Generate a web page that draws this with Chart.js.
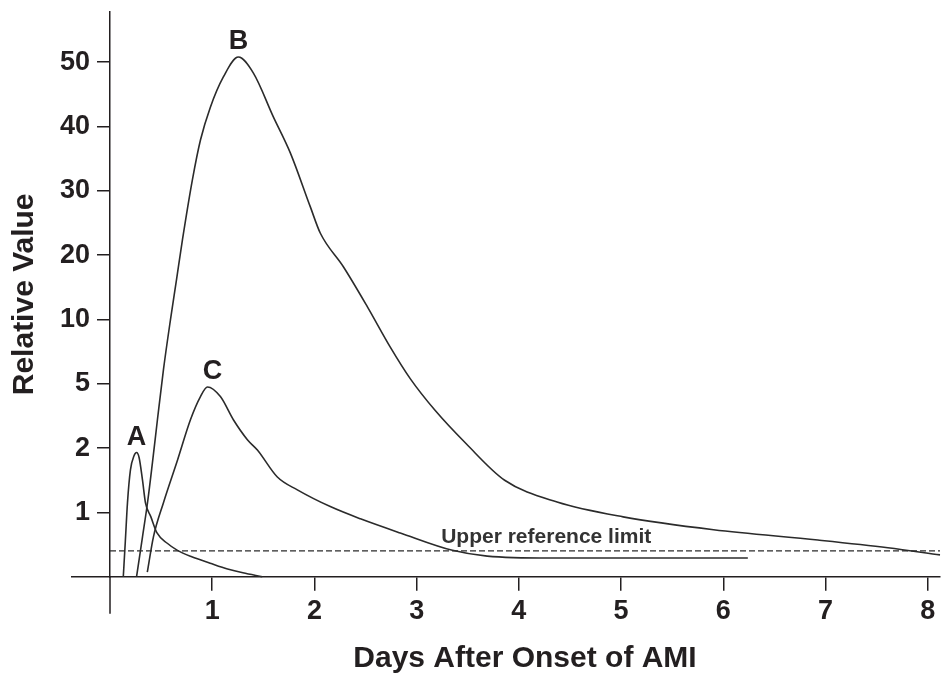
<!DOCTYPE html>
<html>
<head>
<meta charset="utf-8">
<title>Relative Value after onset of AMI</title>
<script src="https://cdn.jsdelivr.net/npm/chart.js@4.4.1/dist/chart.umd.min.js"></script>
<style>
    html, body { margin: 0; padding: 0; background: #ffffff; }
    .chart-container { position: relative; width: 945px; height: 674px; }
</style>
</head>
<body>
<div class="chart-container"><canvas id="ami-chart"></canvas></div>
<script>
// Tick values of the y axis. The axis is not linear: every step between
// two ticks gets the same height, so values are mapped onto tick steps.
const yTickValues = [0, 1, 2, 5, 10, 20, 30, 40, 50];
const xTickValues = [1, 2, 3, 4, 5, 6, 7, 8];

// Curve A
const daysA = [0.13, 0.15, 0.171, 0.2, 0.235, 0.26, 0.285, 0.318, 0.347, 0.40, 0.46, 0.56, 0.66, 0.80, 0.98, 1.15, 1.30, 1.49];
const valuesA = [0, 0.55, 1.15, 1.66, 1.88, 1.93, 1.85, 1.50, 1.15, 0.93, 0.68, 0.52, 0.41, 0.31, 0.21, 0.12, 0.06, 0];

// Curve B
const daysB = [0.26, 0.318, 0.367, 0.415, 0.464, 0.523, 0.591, 0.65, 0.709, 0.806, 0.885, 0.982, 1.109, 1.256, 1.403, 1.598, 1.764, 1.96, 2.058, 2.283, 2.517, 2.742, 2.937, 3.182, 3.485, 3.861, 4.374, 5.02, 5.905, 6.925, 7.61, 8.12];
const valuesB = [0, 0.62, 1.15, 1.77, 3.32, 6.1, 9.95, 16.1, 22.4, 31.7, 37.9, 43.0, 47.7, 50.8, 48.3, 41.5, 35.9, 27.5, 23.4, 18.2, 12.0, 7.85, 5.4, 3.75, 2.2, 1.50, 1.16, 0.93, 0.73, 0.57, 0.45, 0.34];

// Curve C
const daysC = [0.365, 0.425, 0.523, 0.66, 0.787, 0.885, 0.953, 1.08, 1.207, 1.344, 1.442, 1.637, 1.833, 2.155, 2.45, 2.84, 3.35, 3.69, 4.3, 4.88, 6.24];
const valuesC = [0.07, 0.62, 1.15, 1.81, 3.32, 4.4, 4.85, 4.4, 3.32, 2.39, 1.97, 1.55, 1.35, 1.09, 0.90, 0.68, 0.41, 0.32, 0.29, 0.29, 0.29];

const curveNames = ['A', 'B', 'C'];
const upperReferenceLimit = 0.4;
const referenceLabel = 'Upper reference limit';

const INK = '#231f20';
const FONT = "'Liberation Sans', Arial, Helvetica, sans-serif";

// value -> position in tick steps
function toAxis(v) {
    for (let i = 1; i < yTickValues.length; i++) {
        if (v <= yTickValues[i]) {
            const lo = yTickValues[i - 1];
            const hi = yTickValues[i];
            return (i - 1) + (v - lo) / (hi - lo);
        }
    }
    const n = yTickValues.length - 1;
    return n + (v - yTickValues[n]) / (yTickValues[n] - yTickValues[n - 1]);
}

function toPoints(days, values) {
    return days.map((d, i) => ({ x: d, y: toAxis(values[i]) }));
}

function curve(name, days, values, labelDx) {
    return {
        label: name,
        data: toPoints(days, values),
        borderColor: '#2b2b2b',
        borderWidth: 1.6,
        pointRadius: 0,
        cubicInterpolationMode: 'monotone',
        fill: false,
        clip: false,
        peakLabel: name,
        peakLabelDx: labelDx
    };
}

const extraMarks = {
    id: 'extraMarks',
    afterDraw(chart) {
        const { ctx, chartArea } = chart;
        const x = chart.scales.x;
        const y = chart.scales.y;
        const y0 = y.getPixelForValue(0);

        ctx.save();
        // axis lines run a little past the origin
        ctx.strokeStyle = INK;
        ctx.lineWidth = 1.5;
        ctx.beginPath();
        ctx.moveTo(chartArea.left - 39, y0);
        ctx.lineTo(chartArea.left, y0);
        ctx.moveTo(chartArea.left, chartArea.bottom);
        ctx.lineTo(chartArea.left, chartArea.bottom + 37);
        ctx.stroke();

        // letters over the peaks
        ctx.fillStyle = INK;
        ctx.font = 'bold 27px ' + FONT;
        ctx.textAlign = 'center';
        ctx.textBaseline = 'alphabetic';
        chart.data.datasets.forEach(ds => {
            if (!ds.peakLabel) return;
            const peak = ds.data.reduce((a, b) => (b.y > a.y ? b : a));
            ctx.fillText(ds.peakLabel,
                x.getPixelForValue(peak.x) + (ds.peakLabelDx || 0),
                y.getPixelForValue(peak.y) - 8);
        });

        // reference line label
        ctx.fillStyle = '#333333';
        ctx.font = 'bold 21px ' + FONT;
        ctx.textAlign = 'left';
        ctx.fillText(referenceLabel, x.getPixelForValue(3.24), y.getPixelForValue(toAxis(upperReferenceLimit)) - 8);
        ctx.restore();
    }
};

const ctx = document.getElementById('ami-chart').getContext('2d');
new Chart(ctx, {
    type: 'line',
    data: {
        datasets: [
            curve(curveNames[0], daysA, valuesA, 0),
            curve(curveNames[1], daysB, valuesB, 0),
            curve(curveNames[2], daysC, valuesC, 5),
            {
                label: referenceLabel,
                data: [{ x: 0, y: toAxis(upperReferenceLimit) }, { x: 8.12, y: toAxis(upperReferenceLimit) }],
                borderColor: '#2b2b2b',
                borderWidth: 1.3,
                borderDash: [6, 3],
                pointRadius: 0,
                fill: false
            }
        ]
    },
    options: {
        responsive: true,
        maintainAspectRatio: false,
        animation: false,
        layout: { padding: { top: 12, right: 5, bottom: 0, left: 0 } },
        plugins: {
            legend: { display: false },
            tooltip: { enabled: false }
        },
        scales: {
            x: {
                type: 'linear',
                min: 0,
                max: 8.12,
                afterBuildTicks: scale => {
                    scale.ticks = xTickValues.map(v => ({ value: v }));
                },
                afterFit: scale => {
                    scale.height = 97.3;
                    scale.paddingLeft = 0;
                    scale.paddingRight = 0;
                },
                border: { display: true, color: INK, width: 1.5 },
                grid: {
                    drawOnChartArea: false,
                    drawTicks: true,
                    tickLength: 14,
                    color: INK,
                    lineWidth: 1.5
                },
                ticks: {
                    autoSkip: false,
                    maxRotation: 0,
                    padding: 5,
                    color: INK,
                    font: { family: FONT, size: 27, weight: 'bold' }
                },
                title: {
                    display: true,
                    text: 'Days After Onset of AMI',
                    color: INK,
                    padding: { top: 0, bottom: 0 },
                    font: { family: FONT, size: 30, weight: 'bold', lineHeight: 1 }
                }
            },
            y: {
                type: 'linear',
                min: 0,
                max: 8.78,
                afterBuildTicks: scale => {
                    scale.ticks = yTickValues.slice(1).map((v, i) => ({ value: i + 1 }));
                },
                afterFit: scale => {
                    scale.width = 110;
                    scale.paddingTop = 0;
                    scale.paddingBottom = 0;
                },
                border: { display: true, color: INK, width: 1.5 },
                grid: {
                    drawOnChartArea: false,
                    drawTicks: true,
                    tickLength: 13,
                    color: INK,
                    lineWidth: 1.5
                },
                ticks: {
                    padding: 7,
                    color: INK,
                    font: { family: FONT, size: 27, weight: 'bold' },
                    callback: value => yTickValues[value]
                },
                title: {
                    display: true,
                    text: 'Relative Value',
                    color: INK,
                    padding: { top: 10, bottom: 0 },
                    font: { family: FONT, size: 30, weight: 'bold', lineHeight: 1 }
                }
            }
        }
    },
    plugins: [extraMarks]
});
</script>
</body>
</html>
